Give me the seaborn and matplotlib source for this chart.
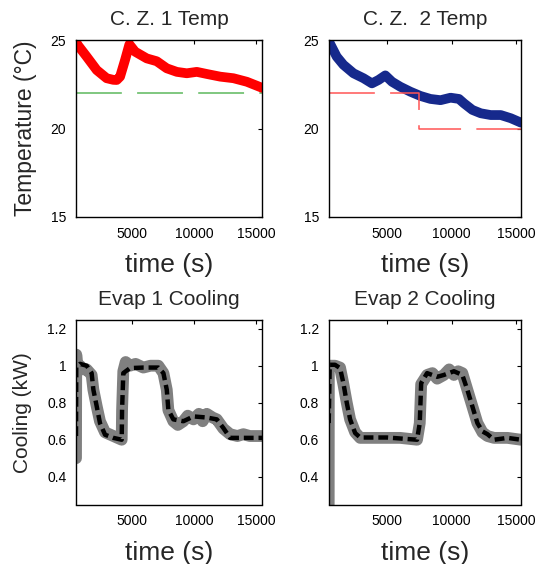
import numpy as np
import pandas as pd
import matplotlib
matplotlib.use("Agg")
import matplotlib.pyplot as plt
import seaborn as sns

# ---------------- data ----------------
# Zone 1 temperature
t_z1 = [500, 550, 1360, 2170, 2970, 3500, 3780, 4050, 4450, 4800, 5260, 6200, 7000,
        7810, 8620, 9420, 10230, 11040, 12110, 13180, 14260, 15480]
T_z1 = [25.0, 24.8, 24.06, 23.3, 22.84, 22.75, 22.74, 22.93, 23.87, 24.75, 24.34, 23.96, 23.8,
        23.4, 23.2, 23.12, 23.2, 23.08, 22.93, 22.84, 22.64, 22.3]
sp_t_z1 = [500, 15480]
sp_z1 = [22.0, 22.0]

# Zone 2 temperature
t_z2 = [460, 560, 1080, 1600, 2380, 3160, 3810, 4320, 4850, 5370, 6010, 6790, 7570,
        8350, 9130, 9910, 10560, 10950, 11600, 12250, 13020, 13800, 14580, 15370]
T_z2 = [25.0, 24.8, 24.06, 23.6, 23.12, 22.84, 22.55, 22.74, 23.0, 22.64, 22.36, 22.08, 21.84,
        21.67, 21.6, 21.74, 21.67, 21.42, 21.05, 20.86, 20.76, 20.76, 20.58, 20.33]
sp_t_z2 = [460, 7500, 15370]
sp_z2 = [22.0, 20.0, 20.0]

# Evaporator 1 cooling: filtered (black dashed) and measured (grey)
t_e1 = [500, 520, 820, 1360, 1760, 1900, 2170, 2430, 2840, 3510, 4180, 4210, 4310, 4850,
        5920, 7130, 7540, 7810, 7940, 8340, 9150, 9960, 11030, 11840, 12370, 12910, 13980, 15480]
q_e1 = [0.62, 0.99, 1.01, 1.0, 0.96, 0.87, 0.78, 0.69, 0.627, 0.61, 0.60, 0.76, 0.96, 0.987,
        0.99, 0.99, 0.96, 0.87, 0.76, 0.71, 0.70, 0.726, 0.72, 0.71, 0.663, 0.61, 0.61, 0.61]
tm_e1 = [500, 520, 600, 820, 1100, 1360, 1760, 1900, 2170, 2430, 2840, 3510, 4180, 4210, 4310,
         4500, 4850, 5300, 5920, 6500, 7130, 7540, 7810, 7940, 8340, 8700, 9150, 9500, 9960,
         10400, 10700, 11030, 11500, 11840, 12370, 12910, 13500, 13980, 14500, 15000, 15480]
qm_e1 = [0.50, 1.06, 1.00, 1.00, 0.98, 0.98, 0.95, 0.87, 0.78, 0.70, 0.64, 0.62, 0.60, 0.76, 0.97,
         1.02, 1.00, 1.01, 0.99, 1.00, 1.00, 0.96, 0.87, 0.76, 0.70, 0.68, 0.70, 0.73, 0.71,
         0.74, 0.70, 0.74, 0.72, 0.71, 0.66, 0.63, 0.62, 0.63, 0.62, 0.62, 0.62]

# Evaporator 2 cooling
t_e2 = [460, 540, 950, 1340, 1600, 1860, 2120, 2510, 2900, 4980, 7310, 7520, 7630, 8090,
        8870, 9390, 10170, 10820, 11210, 11600, 11990, 12380, 12770, 13280, 14320, 15370]
q_e2 = [0.69, 1.005, 1.005, 0.987, 0.906, 0.80, 0.71, 0.636, 0.612, 0.612, 0.60, 0.69, 0.906, 0.96,
        0.94, 0.95, 0.97, 0.95, 0.87, 0.78, 0.69, 0.645, 0.63, 0.60, 0.61, 0.60]
tm_e2 = [460, 470, 540, 950, 1340, 1600, 1860, 2120, 2510, 2900, 3800, 4980, 6000, 7310, 7520,
         7630, 8090, 8500, 8870, 9390, 9800, 10170, 10500, 10820, 11210, 11600, 11990, 12380,
         12770, 13280, 13800, 14320, 15370]
qm_e2 = [0.25, 1.0, 1.0, 1.0, 0.99, 0.90, 0.80, 0.71, 0.64, 0.61, 0.61, 0.61, 0.61, 0.60, 0.69,
         0.90, 0.95, 0.96, 0.93, 0.95, 0.98, 0.95, 0.97, 0.96, 0.87, 0.78, 0.69, 0.64,
         0.62, 0.61, 0.61, 0.61, 0.60]

temp_ticks = [15, 20, 25]
cool_ticks = [0.4, 0.6, 0.8, 1.0, 1.2]
cool_labels = ["0.4", "0.6", "0.8", "1", "1.2"]
time_ticks = [5000, 10000, 15000]

# ---------------- style ----------------
sns.set_style("white")
plt.rcParams["font.family"] = ["Liberation Sans", "DejaVu Sans"]

fig = plt.figure(figsize=(5.37, 5.64), dpi=100)
W, H = 537.0, 564.0


def add_ax(l, r, t, b):
    return fig.add_axes([l / W, 1 - b / H, (r - l) / W, (b - t) / H])


ax1 = add_ax(76, 262, 40, 217)
ax2 = add_ax(328.7, 521, 40, 217)
ax3 = add_ax(76, 262, 320, 504.5)
ax4 = add_ax(328.7, 521, 320, 504.5)


def line(ax, x, y, **kw):
    sns.lineplot(x=x, y=y, ax=ax, estimator=None, sort=False, legend=False, **kw)


# top left
line(ax1, sp_t_z1, sp_z1, color="#5cb85c", linewidth=1.1, linestyle=(0, (30, 10)))
line(ax1, t_z1, T_z1, color="#ff0000", linewidth=7, solid_joinstyle="round", solid_capstyle="round")
# top right
line(ax2, t_z2, T_z2, color="#16298c", linewidth=7, solid_joinstyle="round", solid_capstyle="round")
line(ax2, sp_t_z2, sp_z2, color="#ff5555", linewidth=1.1, linestyle=(0, (30, 10)),
     drawstyle="steps-post")
# bottom
line(ax3, tm_e1, qm_e1, color="#808080", linewidth=8.5, solid_joinstyle="round")
line(ax3, t_e1, q_e1, color="#000000", linewidth=3.2, linestyle=(0, (2.2, 1.1)))
line(ax4, tm_e2, qm_e2, color="#808080", linewidth=8.5, solid_joinstyle="round")
line(ax4, t_e2, q_e2, color="#000000", linewidth=3.2, linestyle=(0, (2.2, 1.1)))

for ax in (ax1, ax2, ax3, ax4):
    ax.set_xticks(time_ticks)
    ax.set_xticklabels([str(v) for v in time_ticks])
    ax.tick_params(direction="in", length=3, width=0.8, top=True, right=True,
                   labelsize=10, pad=7, colors="black")
    for s in ax.spines.values():
        s.set_visible(True)
        s.set_color("black")
        s.set_linewidth(1.0)
    ax.set_xlabel("time (s)", fontsize=19, labelpad=9)
    ax.set_ylabel("")

ax1.set_xlim(500, 15480)
ax3.set_xlim(500, 15480)
ax2.set_xlim(460, 15370)
ax4.set_xlim(460, 15370)

for ax in (ax1, ax2):
    ax.set_ylim(15, 25)
    ax.set_yticks(temp_ticks)
    ax.set_yticklabels([str(v) for v in temp_ticks])
for ax in (ax3, ax4):
    ax.set_ylim(0.25, 1.247)
    ax.set_yticks(cool_ticks)
    ax.set_yticklabels(cool_labels)

ax1.set_title("C. Z. 1 Temp", fontsize=15, pad=10.5)
ax2.set_title("C. Z.  2 Temp", fontsize=15, pad=10.5)
ax3.set_title("Evap 1 Cooling", fontsize=15, pad=10.5)
ax4.set_title("Evap 2 Cooling", fontsize=15, pad=10.5)
ax1.set_ylabel("Temperature (°C)", fontsize=16.5, labelpad=10)
ax3.set_ylabel("Cooling (kW)", fontsize=15, labelpad=11)

fig.savefig("out.png", dpi=100, facecolor="white")
